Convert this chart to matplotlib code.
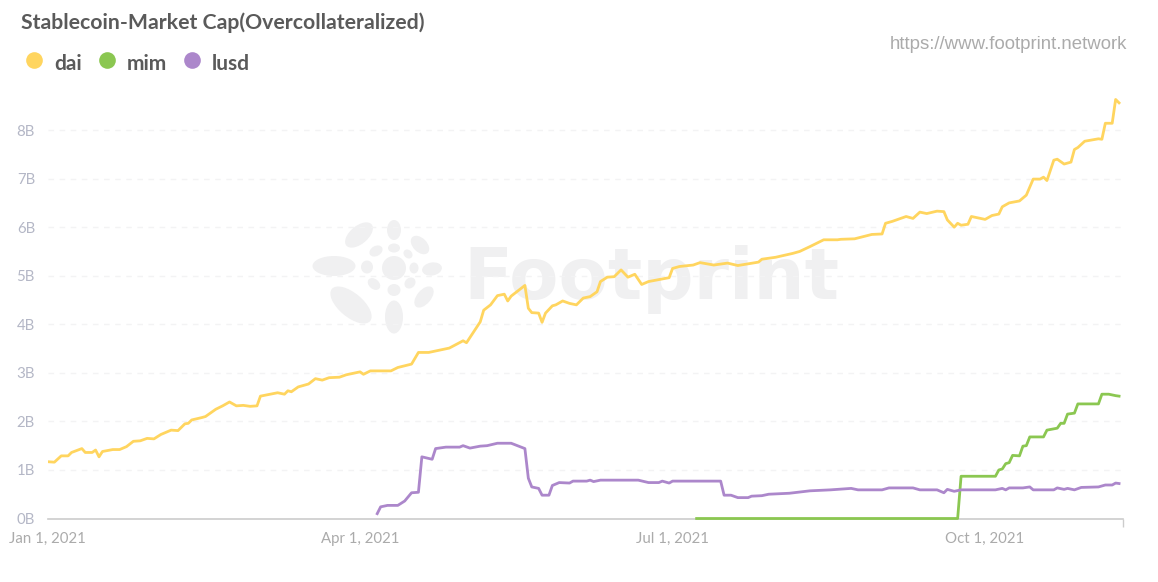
"""Stablecoin market cap (overcollateralized): dai, mim, lusd."""

import matplotlib
matplotlib.use("Agg")
import matplotlib.pyplot as plt
from matplotlib.patches import Ellipse
import pandas as pd

matplotlib.rcParams["font.family"] = ["Lato", "DejaVu Sans"]

START = pd.Timestamp("2021-01-01")
AXIS_END_DAY = 313

# days since Jan 1, 2021 and market cap in billions
dai_days = [0, 2, 4, 6, 7, 10, 11, 13, 14, 15, 16, 19, 21, 23, 25, 27, 29, 31, 33, 36, 38,
            40, 41, 42, 45, 46, 49, 51, 53, 55, 57, 59, 61, 62, 67, 69, 70, 71, 73, 76, 78,
            80, 82, 85, 87, 91, 92, 94, 100, 102, 106, 108, 111, 117, 121, 122, 126, 127,
            129, 131, 133, 134, 135, 139, 140, 141, 143, 144, 145, 147, 148, 150, 152, 154,
            156, 158, 159, 160, 161, 163, 165, 167, 169, 171, 173, 175, 181, 182, 184, 188,
            190, 194, 198, 201, 207, 208, 212, 217, 219, 222, 226, 230, 231, 235, 240, 243,
            244, 246, 250, 252, 254, 256, 259, 261, 262, 264, 265, 266, 268, 269, 273, 275,
            277, 278, 280, 283, 285, 287, 289, 290, 291, 293, 294, 296, 298, 299, 300, 302,
            306, 307, 308, 310, 311, 312]
dai_vals = [1.17, 1.16, 1.29, 1.29, 1.36, 1.44, 1.36, 1.36, 1.41, 1.27, 1.38, 1.42, 1.42, 1.48,
            1.59, 1.60, 1.65, 1.64, 1.73, 1.82, 1.81, 1.95, 1.96, 2.03, 2.08, 2.10, 2.25, 2.32,
            2.40, 2.32, 2.33, 2.31, 2.32, 2.52, 2.59, 2.56, 2.63, 2.61, 2.71, 2.77, 2.88, 2.85,
            2.90, 2.91, 2.96, 3.02, 2.97, 3.04, 3.04, 3.11, 3.18, 3.42, 3.42, 3.51, 3.66, 3.62,
            4.05, 4.29, 4.40, 4.59, 4.62, 4.48, 4.58, 4.80, 4.33, 4.24, 4.23, 4.04, 4.23, 4.38,
            4.40, 4.48, 4.43, 4.40, 4.54, 4.57, 4.62, 4.67, 4.88, 4.97, 4.98, 5.12, 4.97, 5.03,
            4.82, 4.88, 4.96, 5.15, 5.19, 5.22, 5.27, 5.22, 5.26, 5.21, 5.28, 5.34, 5.38, 5.46,
            5.50, 5.60, 5.74, 5.74, 5.75, 5.76, 5.85, 5.86, 6.08, 6.12, 6.22, 6.18, 6.31, 6.28,
            6.33, 6.32, 6.15, 6.00, 6.08, 6.04, 6.06, 6.22, 6.16, 6.24, 6.27, 6.42, 6.50, 6.54,
            6.66, 6.99, 6.99, 7.03, 6.96, 7.38, 7.40, 7.30, 7.34, 7.60, 7.64, 7.77, 7.82, 7.81,
            8.14, 8.14, 8.63, 8.56]

mim_days = [189, 265, 266, 276, 277, 278, 279, 280, 281, 283, 284, 285, 286, 290, 291, 294,
            295, 296, 297, 299, 300, 306, 307, 309, 311, 312]
mim_vals = [0.0, 0.0, 0.87, 0.87, 1.00, 1.02, 1.13, 1.15, 1.30, 1.29, 1.49, 1.50, 1.68, 1.68,
            1.82, 1.86, 1.96, 1.96, 2.15, 2.17, 2.36, 2.36, 2.56, 2.56, 2.53, 2.52]

lusd_days = [96, 97, 99, 102, 104, 106, 108, 109, 112, 113, 116, 120, 121, 123, 126, 128, 131,
             135, 139, 140, 141, 143, 144, 146, 147, 149, 152, 153, 157, 158, 159, 161, 172,
             175, 178, 179, 181, 182, 196, 197, 199, 201, 204, 205, 208, 210, 216, 222, 228,
             234, 236, 243, 245, 252, 254, 259, 261, 262, 264, 266, 276, 278, 279, 280, 284,
             286, 287, 293, 294, 296, 297, 299, 301, 306, 308, 310, 311, 312]
lusd_vals = [0.10, 0.24, 0.27, 0.27, 0.36, 0.53, 0.54, 1.27, 1.22, 1.44, 1.47, 1.47, 1.50, 1.45,
             1.49, 1.50, 1.55, 1.55, 1.44, 0.83, 0.65, 0.62, 0.48, 0.48, 0.68, 0.74, 0.73, 0.77,
             0.77, 0.79, 0.76, 0.79, 0.79, 0.74, 0.74, 0.77, 0.73, 0.77, 0.77, 0.48, 0.48, 0.43,
             0.43, 0.46, 0.47, 0.50, 0.52, 0.57, 0.59, 0.62, 0.59, 0.59, 0.63, 0.63, 0.59, 0.59,
             0.53, 0.60, 0.56, 0.59, 0.59, 0.62, 0.59, 0.63, 0.63, 0.65, 0.59, 0.59, 0.63, 0.60,
             0.62, 0.59, 0.64, 0.65, 0.69, 0.69, 0.73, 0.72]

series_names = ["dai", "mim", "lusd"]
series_colors = ["#FFD55F", "#8BC751", "#AC87CB"]

y_ticks = [0, 1, 2, 3, 4, 5, 6, 7, 8]
y_labels = ["0B", "1B", "2B", "3B", "4B", "5B", "6B", "7B", "8B"]
# the source chart spaces its labels evenly, so Apr and Jul sit a day late
x_tick_dates = ["2021-01-01", "2021-04-02", "2021-07-02", "2021-10-01"]
x_labels = ["Jan 1, 2021", "Apr 1, 2021", "Jul 1, 2021", "Oct 1, 2021"]

W, H = 1158, 582


def to_dates(days):
    return START + pd.to_timedelta(days, unit="D")


def draw_watermark(fig):
    # Footprint logo and wordmark behind the chart, in pixel coordinates
    bg = fig.add_axes([0, 0, 1, 1], zorder=0)
    bg.set_xlim(0, W)
    bg.set_ylim(H, 0)
    bg.axis("off")
    petals = [(334, 266, 43, 20, 0), (351, 305, 50, 24, -40), (359, 235, 33, 18, 40),
              (394, 230, 14, 20, 0), (394, 317, 18, 33, 0), (420, 245, 22, 14, -45),
              (432, 269, 20, 13, 10), (424, 297, 25, 14, 50), (376, 251, 14, 10, 30),
              (394, 248, 12, 9, 0), (408, 254, 10, 8, -45), (414, 268, 9, 11, 0),
              (367, 267, 12, 13, 0), (394, 268, 24, 24, 0), (374, 284, 14, 10, -40),
              (394, 290, 13, 12, 0), (410, 283, 12, 10, 45)]
    for cx, cy, w, h, ang in petals:
        bg.add_patch(Ellipse((cx, cy), w, h, angle=-ang, color="#F0F0F1", lw=0))
    bg.text(463, 299, "Footprint", fontsize=51.7, family="DejaVu Sans", fontweight="bold",
            color="#F0F0F1", ha="left", va="baseline")


def main():
    fig = plt.figure(figsize=(W / 100, H / 100), dpi=100)
    draw_watermark(fig)

    left, right = 47.5, 1122.5
    top, bottom = 81.5, 518.5
    ax = fig.add_axes([left / W, 1 - bottom / H, (right - left) / W, (bottom - top) / H], zorder=1)
    ax.patch.set_alpha(0)

    ax.plot(to_dates(dai_days), dai_vals, color=series_colors[0], lw=2.0, solid_joinstyle="round")
    ax.plot(to_dates(mim_days), mim_vals, color=series_colors[1], lw=2.0, solid_joinstyle="round",
            clip_on=False, zorder=3)
    ax.plot(to_dates(lusd_days), lusd_vals, color=series_colors[2], lw=2.0, solid_joinstyle="round",
            zorder=3)

    ax.set_xlim(START, to_dates(AXIS_END_DAY))
    ax.set_ylim(0, 9)

    ax.set_yticks(y_ticks)
    ax.set_yticklabels(y_labels, fontsize=10.8, color="#B4B7C6")
    ax.set_xticks(pd.to_datetime(x_tick_dates))
    ax.set_xticklabels(x_labels, fontsize=10.8, color="#ABABAB")
    ax.set_xticks([START, to_dates(AXIS_END_DAY)], minor=True)
    ax.tick_params(axis="y", length=0, pad=9)
    ax.tick_params(axis="x", which="major", length=0, pad=10)
    ax.tick_params(axis="x", which="minor", length=6, width=1, color="#CCCCCC")

    ax.grid(axis="y", color="#F3F3F4", lw=1, ls=(0, (4, 4)))
    ax.set_axisbelow(True)
    for side in ["top", "left", "right"]:
        ax.spines[side].set_visible(False)
    ax.spines["bottom"].set_color("#CCCCCC")
    ax.spines["bottom"].set_linewidth(1.2)

    fig.text(21 / W, 1 - 29 / H, "Stablecoin-Market Cap(Overcollateralized)", fontsize=15.35,
             fontweight="bold", color="#5A5A5A", ha="left", va="baseline")
    fig.text(1127 / W, 1 - 49 / H, "https://www.footprint.network", fontsize=13.45,
             family="Liberation Sans", color="#ABABAB", ha="right", va="baseline")

    # legend is laid out by hand to keep the markers above the text line
    fg = fig.add_axes([0, 0, 1, 1], zorder=2)
    fg.set_xlim(0, W)
    fg.set_ylim(H, 0)
    fg.axis("off")
    for name, color, mx in zip(series_names, series_colors, [34, 107, 192]):
        fg.plot([mx], [60], "o", ms=12, color=color, mew=0)
        fg.text(mx + 20, 70, name, fontsize=15, fontweight="bold", color="#5A5A5A",
                ha="left", va="baseline")

    fig.savefig("out.png", dpi=100)


if __name__ == "__main__":
    main()
